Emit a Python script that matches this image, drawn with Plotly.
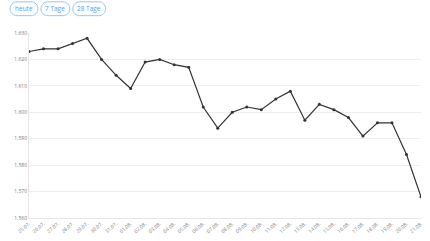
import plotly.graph_objects as go

dates = ["25.07.", "26.07.", "27.07.", "28.07.", "29.07.", "30.07.", "31.07.",
         "01.08.", "02.08.", "03.08.", "04.08.", "05.08.", "06.08.", "07.08.",
         "08.08.", "09.08.", "10.08.", "11.08.", "12.08.", "13.08.", "14.08.",
         "15.08.", "16.08.", "17.08.", "18.08.", "19.08.", "20.08.", "21.08."]
prices = [1623, 1624, 1624, 1626, 1628, 1620, 1614, 1609, 1619, 1620, 1618, 1617,
          1602, 1594, 1600, 1602, 1601, 1605, 1608, 1597, 1603, 1601, 1598, 1591,
          1596, 1596, 1584, 1568]
y_ticks = [1560, 1570, 1580, 1590, 1600, 1610, 1620, 1630]
buttons = ["heute", "7 Tage", "28 Tage"]

fig = go.Figure()
fig.add_trace(go.Scatter(
    x=list(range(len(dates))), y=prices, mode="lines+markers",
    line=dict(color="#333333", width=1.2),
    marker=dict(color="#333333", size=3),
    hoverinfo="skip", showlegend=False))

W, H = 430, 241
ml, mr, mt, mb = 29, 7, 33, 21

fig.update_layout(
    width=W, height=H,
    margin=dict(l=ml, r=mr, t=mt, b=mb, pad=0),
    paper_bgcolor="white", plot_bgcolor="white",
    separators=",.",
    font=dict(family="Open Sans", size=5, color="#777777"),
    xaxis=dict(range=[0, len(dates) - 1], tickvals=list(range(len(dates))),
               ticktext=dates, tickangle=-40, showgrid=False, zeroline=False,
               showline=True, linecolor="#e6e6e6", linewidth=1, ticks="",
               tickfont=dict(size=5, color="#888888")),
    yaxis=dict(range=[1560, 1630], tickvals=y_ticks, tickformat=",.0f",
               ticksuffix=" €", showgrid=True, gridcolor="#eeeeee", gridwidth=1,
               zeroline=False, showline=True, linecolor="#e6e6e6", linewidth=1,
               ticks="", tickfont=dict(size=5, color="#777777")),
)

# Pill-shaped buttons at top (pixel -> paper coordinates)
pw, ph = W - ml - mr, H - mt - mb
def px(x):
    return (x - ml) / pw
def py(y):
    return (H - mb - y) / ph

btn_x = [(10, 38), (41, 70), (73, 106)]
y0, y1 = 1.5, 15.5
r = 7
for label, (x0, x1) in zip(buttons, btn_x):
    ym = (y0 + y1) / 2
    path = (f"M {px(x0 + r)},{py(y0)} L {px(x1 - r)},{py(y0)} "
            f"C {px(x1 - r + 3.9)},{py(y0)} {px(x1)},{py(ym - 3.9)} {px(x1)},{py(ym)} "
            f"C {px(x1)},{py(ym + 3.9)} {px(x1 - r + 3.9)},{py(y1)} {px(x1 - r)},{py(y1)} "
            f"L {px(x0 + r)},{py(y1)} "
            f"C {px(x0 + r - 3.9)},{py(y1)} {px(x0)},{py(ym + 3.9)} {px(x0)},{py(ym)} "
            f"C {px(x0)},{py(ym - 3.9)} {px(x0 + r - 3.9)},{py(y0)} {px(x0 + r)},{py(y0)} Z")
    fig.add_shape(type="path", path=path, xref="paper", yref="paper",
                  line=dict(color="#94c6f2", width=1), fillcolor="white")
    fig.add_annotation(x=px((x0 + x1) / 2), y=py(ym), xref="paper",
                       yref="paper", text=label, showarrow=False,
                       font=dict(size=6.5, color="#5d9ddd", family="Open Sans"),
                       xanchor="center", yanchor="middle")

fig.write_html("out.html")
